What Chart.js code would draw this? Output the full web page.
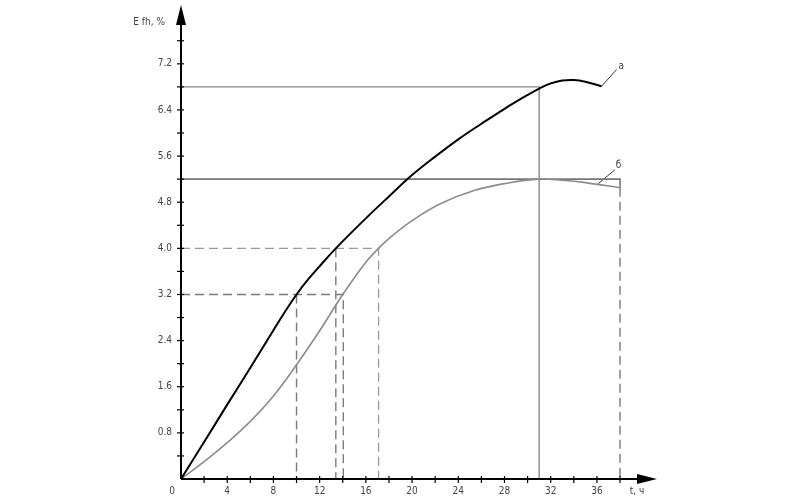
<!DOCTYPE html>
<html>
<head>
<meta charset="utf-8">
<script src="https://cdn.jsdelivr.net/npm/chart.js@4/dist/chart.umd.min.js"></script>
<style>
html,body{margin:0;padding:0;background:#fff;}
#wrap{width:800px;height:500px;position:relative;}
</style>
</head>
<body>
<div id="wrap"><canvas id="c" width="800" height="500"></canvas></div>
<script>
// ---- data ----
const curveA_t = [0, 2, 4, 6, 8, 9, 10, 11, 12, 13.4, 16, 18, 20, 22, 24, 26, 28, 30, 31, 32, 33, 34, 35, 36.4];
const curveA_E = [0, 0.64, 1.29, 1.93, 2.58, 2.9, 3.2, 3.46, 3.69, 4.0, 4.52, 4.9, 5.27, 5.59, 5.89, 6.16, 6.42, 6.66, 6.77, 6.86, 6.91, 6.92, 6.89, 6.81];

const curveB_t = [0, 2, 4, 6, 8, 10, 12, 14, 16, 17.1, 18, 20, 22.4, 25.3, 28.2, 31, 33, 35, 38];
const curveB_E = [0, 0.3, 0.63, 1.0, 1.44, 1.98, 2.57, 3.2, 3.76, 4.0, 4.17, 4.48, 4.77, 5.0, 5.13, 5.2, 5.18, 5.14, 5.05];

// guide lines (key readings)
const guideA_t = [0, 31, 31];        const guideA_E = [6.8, 6.8, 0];
const guideB_t = [0, 38, 38];        const guideB_E = [5.2, 5.2, 5.05];
const dashB_t  = [38, 38];           const dashB_E  = [5.05, 0];
const dash32_t = [0, 14.05, 14.05];  const dash32_E = [3.2, 3.2, 0];
const dash32a_t = [10, 10];          const dash32a_E = [3.2, 0];
const dash40_t = [0, 17.1, 17.1];    const dash40_E = [4.0, 4.0, 0];
const dash40a_t = [13.4, 13.4];      const dash40a_E = [4.0, 0];

// curve name leaders
const leaderA_t = [36.4, 37.7];      const leaderA_E = [6.81, 7.1];
const leaderB_t = [36.1, 37.55];     const leaderB_E = [5.12, 5.36];
const curveNames = ['а', 'б'];

// ticks
const xTickValues = [0, 2, 4, 6, 8, 10, 12, 14, 16, 18, 20, 22, 24, 26, 28, 30, 32, 34, 36, 38];
const xTickLabels = ['', '', '4', '', '8', '', '12', '', '16', '', '20', '', '24', '', '28', '', '32', '', '36', ''];
const yTickValues = [0, 0.4, 0.8, 1.2, 1.6, 2.0, 2.4, 2.8, 3.2, 3.6, 4.0, 4.4, 4.8, 5.2, 5.6, 6.0, 6.4, 6.8, 7.2, 7.6];
const yTickLabels = ['', '', '0.8', '', '1.6', '', '2.4', '', '3.2', '', '4.0', '', '4.8', '', '5.6', '', '6.4', '', '7.2', ''];
const xAxisTitle = 't, ч';
const yAxisTitle = 'E fh, %';
const originLabel = '0';

const xMax = 41.2, yMax = 8.22;

function pts(xs, ys){ return xs.map((x,i)=>({x:x, y:ys[i]})); }

const FONT = "'Liberation Sans Narrow', 'DejaVu Sans Condensed', 'Liberation Sans', sans-serif";
const GRAY = '#8a8a8a';
const DGRAY = '#7a7a7a';

function guide(xs, ys, dashed, color, w){
  return {data: pts(xs, ys), borderColor: color, borderWidth: w, borderDash: dashed ? [9,5] : [],
          pointRadius: 0, tension: 0, fill: false, order: 5};
}

const axisPlugin = {
  id: 'axisPlugin',
  afterDraw(chart){
    const ctx = chart.ctx;
    const xs = chart.scales.x, ys = chart.scales.y;
    const x0 = xs.getPixelForValue(0), y0 = ys.getPixelForValue(0);
    const xEnd = xs.getPixelForValue(xMax), yEnd = ys.getPixelForValue(yMax);
    ctx.save();
    ctx.strokeStyle = '#000'; ctx.fillStyle = '#000'; ctx.lineWidth = 2;
    // x axis
    ctx.beginPath(); ctx.moveTo(x0, y0); ctx.lineTo(xEnd - 14, y0); ctx.stroke();
    ctx.beginPath(); ctx.moveTo(xEnd, y0); ctx.lineTo(xEnd - 20, y0 - 5); ctx.lineTo(xEnd - 20, y0 + 5); ctx.closePath(); ctx.fill();
    // y axis
    ctx.beginPath(); ctx.moveTo(x0, y0); ctx.lineTo(x0, yEnd + 14); ctx.stroke();
    ctx.beginPath(); ctx.moveTo(x0, yEnd); ctx.lineTo(x0 - 5, yEnd + 20); ctx.lineTo(x0 + 5, yEnd + 20); ctx.closePath(); ctx.fill();
    // tick marks
    ctx.lineWidth = 1.2;
    xTickValues.forEach(v => { if (v === 0) return; const p = xs.getPixelForValue(v);
      ctx.beginPath(); ctx.moveTo(p, y0 - 3); ctx.lineTo(p, y0 + 4); ctx.stroke(); });
    yTickValues.forEach(v => { if (v === 0) return; const p = ys.getPixelForValue(v);
      ctx.beginPath(); ctx.moveTo(x0 - 4, p); ctx.lineTo(x0 + 3, p); ctx.stroke(); });
    // texts
    ctx.fillStyle = '#444';
    ctx.font = '10px ' + FONT;
    ctx.textBaseline = 'middle';
    ctx.textAlign = 'center';
    ctx.fillText(originLabel, x0 - 9, y0 + 12);
    ctx.fillText(xAxisTitle, xEnd - 20, y0 + 12);
    ctx.textAlign = 'right';
    ctx.fillText(yAxisTitle, x0 - 16, yEnd + 17);
    ctx.textAlign = 'left';
    ctx.fillText(curveNames[0], xs.getPixelForValue(leaderA_t[1]) + 2, ys.getPixelForValue(leaderA_E[1]) - 3);
    ctx.fillText(curveNames[1], xs.getPixelForValue(leaderB_t[1]) + 1, ys.getPixelForValue(leaderB_E[1]) - 5);
    ctx.restore();
  }
};

new Chart(document.getElementById('c'), {
  type: 'line',
  data: {
    datasets: [
      {label: 'а', data: pts(curveA_t, curveA_E), borderColor: '#000', borderWidth: 2, pointRadius: 0,
       tension: 0.4, fill: false, order: 1},
      {label: 'б', data: pts(curveB_t, curveB_E), borderColor: '#8c8c8c', borderWidth: 1.6, pointRadius: 0,
       tension: 0.4, fill: false, order: 2},
      guide(guideA_t, guideA_E, false, GRAY, 1.4),
      guide(guideB_t, guideB_E, false, '#777', 1.6),
      guide(dashB_t, dashB_E, true, DGRAY, 1.4),
      guide(dash32_t, dash32_E, true, DGRAY, 1.4),
      guide(dash32a_t, dash32a_E, true, DGRAY, 1.4),
      guide(dash40_t, dash40_E, true, '#999', 1.3),
      guide(dash40a_t, dash40a_E, true, DGRAY, 1.4),
      guide(leaderA_t, leaderA_E, false, '#333', 1),
      guide(leaderB_t, leaderB_E, false, '#333', 1)
    ]
  },
  options: {
    responsive: false,
    animation: false,
    clip: false,
    layout: {padding: {left: 0, right: 143, top: 5, bottom: 0}},
    plugins: {legend: {display: false}, tooltip: {enabled: false}},
    scales: {
      x: {
        type: 'linear', min: 0, max: xMax,
        grid: {display: false, drawTicks: false},
        border: {display: false},
        afterBuildTicks: s => { s.ticks = xTickValues.map(v => ({value: v})); },
        afterFit: s => { s.height = 21; s.paddingLeft = 0; s.paddingRight = 0; },
        ticks: {autoSkip: false, maxRotation: 0, padding: 6, color: '#444',
                font: {family: FONT, size: 10},
                callback: (v, i) => xTickLabels[i]}
      },
      y: {
        type: 'linear', min: 0, max: yMax,
        grid: {display: false, drawTicks: false},
        border: {display: false},
        afterBuildTicks: s => { s.ticks = yTickValues.map(v => ({value: v})); },
        afterFit: s => { s.width = 181; s.paddingTop = 0; s.paddingBottom = 0; },
        ticks: {autoSkip: false, padding: 9, color: '#444',
                font: {family: FONT, size: 10},
                callback: (v, i) => yTickLabels[i]}
      }
    }
  },
  plugins: [axisPlugin]
});
</script>
</body>
</html>
